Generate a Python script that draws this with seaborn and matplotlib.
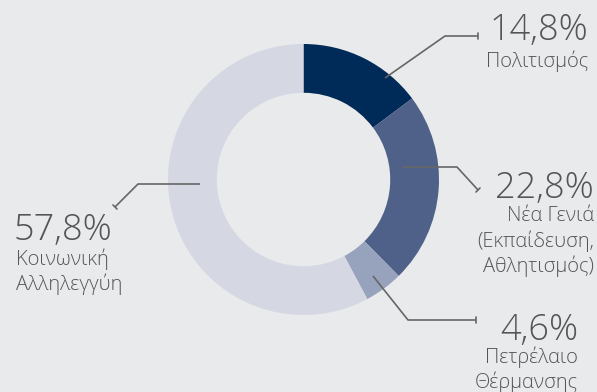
import matplotlib
matplotlib.use("Agg")
import matplotlib.pyplot as plt
import seaborn as sns

# Budget shares by programme
categories = ["Πολιτισμός", "Νέα Γενιά\n(Εκπαίδευση,\nΑθλητισμός)",
              "Πετρέλαιο\nΘέρμανσης", "Κοινωνική\nΑλληλεγγύη"]
values = [14.8, 22.8, 4.6, 57.8]
value_labels = ["14,8%", "22,8%", "4,6%", "57,8%"]

colors = ["#002a57", "#4f6188", "#97a2bc", "#d5d8e3"]
bg = "#e9eaec"
ink = "#555555"
line_c = "#666666"

sns.set_style("white")
plt.rcParams["font.family"] = ["Open Sans", "DejaVu Sans"]

W, H = 597, 392
fig = plt.figure(figsize=(W / 100, H / 100), dpi=100, facecolor=bg)
ax = fig.add_axes([0, 0, 1, 1])
ax.set_facecolor(bg)

cx, cy, R = 303.5, H - 179.5, 135.5
ax.pie(values, colors=colors, startangle=90, counterclock=False,
       center=(cx, cy), radius=R, frame=True,
       wedgeprops=dict(width=R * 0.36, linewidth=0))
ax.set_xlim(0, W)
ax.set_ylim(0, H)
ax.set_aspect("equal")
ax.axis("off")


def leader(pts, tick):
    xs = [p[0] for p in pts]
    ys = [H - p[1] for p in pts]
    ax.plot(xs, ys, color=line_c, lw=1.2, solid_capstyle="butt")
    (x0, y0), (x1, y1) = tick
    ax.plot([x0, x1], [H - y0, H - y1], color=line_c, lw=1.2)


# leader lines (pixel geometry, y measured from top)
leader([(385, 78), (445, 36), (478, 36)], ((478, 33), (478, 39)))
leader([(402, 167), (457, 167), (478, 190)], ((476, 192), (480, 188)))
leader([(373, 276), (408, 320), (476, 320)], ((476, 317), (476, 323)))
leader([(200, 184), (138, 184), (115, 207)], ((113, 205), (117, 209)))

big = dict(fontsize=26, color=ink, fontweight="light")
small = dict(fontsize=14.5, color=ink, fontweight="light", linespacing=1.25)

# 14,8%
ax.text(588, H - 40, value_labels[0], ha="right", va="baseline", **big)
ax.text(588, H - 61, categories[0], ha="right", va="center", **small)
# 22,8%
ax.text(594, H - 198, value_labels[1], ha="right", va="baseline", **big)
ax.text(594, H - 206, categories[1], ha="right", va="top", **small)
# 4,6%
ax.text(578, H - 340, value_labels[2], ha="right", va="baseline", **big)
ax.text(578, H - 346, categories[2], ha="right", va="top", **small)
# 57,8%
ax.text(14, H - 240, value_labels[3], ha="left", va="baseline", **big)
ax.text(16, H - 248, categories[3], ha="left", va="top", **small)

fig.savefig("out.png", dpi=100, facecolor=bg)
